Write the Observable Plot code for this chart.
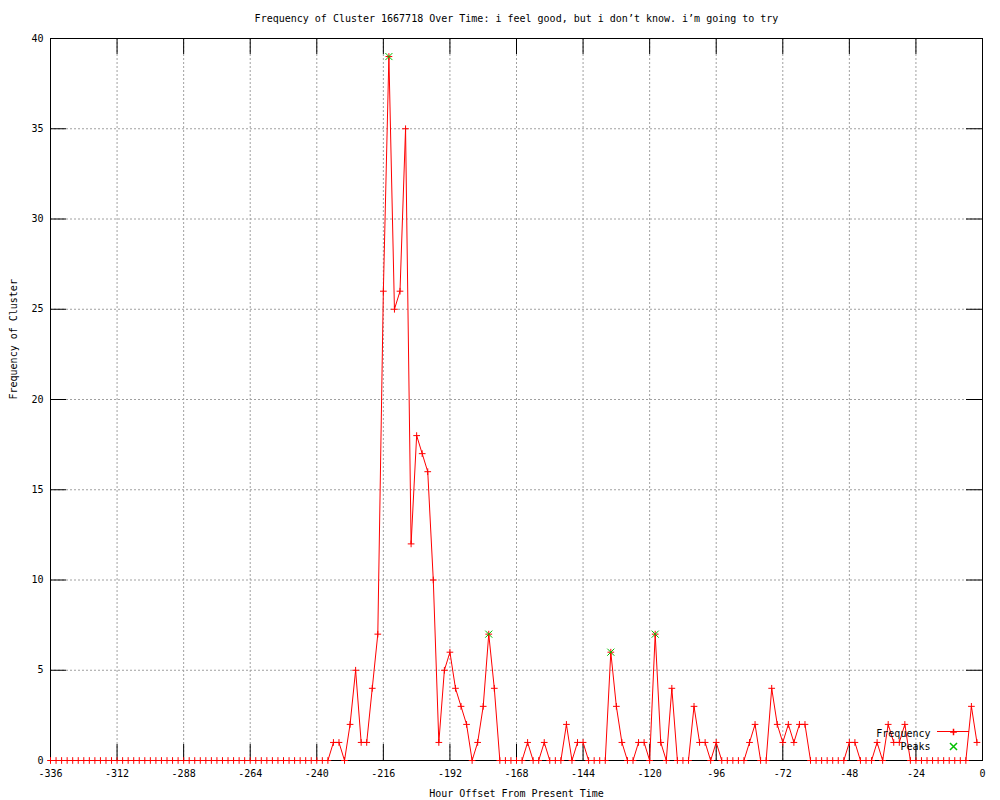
<!DOCTYPE html>
<html>
<head>
<meta charset="utf-8">
<script src="https://cdn.jsdelivr.net/npm/d3@7"></script>
<script src="https://cdn.jsdelivr.net/npm/@observablehq/plot@0.6"></script>
<style>
  body { margin: 0; background: #fff; }
  svg { display: block; }
</style>
</head>
<body>
<div id="chart"></div>
<script>
// ---- chart texts ----
const chartTitle = "Frequency of Cluster 1667718 Over Time: i feel good, but i don’t know. i’m going to try";
const xLabel = "Hour Offset From Present Time";
const yLabel = "Frequency of Cluster";
const seriesNames = ["Frequency", "Peaks"];

// ---- sampling grid (hour offsets) ----
const firstHour = -336;
const hourStep = 2;

// ---- series values (one per 2-hour step, from -336 to -2) ----
const frequency = [
  0,0,0,0,0,0,0,0,0,0,
  0,0,0,0,0,0,0,0,0,0,
  0,0,0,0,0,0,0,0,0,0,
  0,0,0,0,0,0,0,0,0,0,
  0,0,0,0,0,0,0,0,0,0,
  0,1,1,0,2,5,1,1,4,7,
  26,39,25,26,35,12,18,17,16,10,
  1,5,6,4,3,2,0,1,3,7,
  4,0,0,0,0,0,1,0,0,1,
  0,0,0,2,0,1,1,0,0,0,
  0,6,3,1,0,0,1,1,0,7,
  1,0,4,0,0,0,3,1,1,0,
  1,0,0,0,0,0,1,2,0,0,
  4,2,1,2,1,2,2,0,0,0,
  0,0,0,0,1,1,0,0,0,1,
  0,2,1,1,2,0,0,0,0,0,
  0,0,0,0,0,0,3,1
];

// ---- peaks (hour offsets) ----
const peakHours = [-214, -178, -134, -118];

// ---- tick values ----
const xTicks = [-336, -312, -288, -264, -240, -216, -192, -168, -144, -120, -96, -72, -48, -24, 0];
const yTicks = [0, 5, 10, 15, 20, 25, 30, 35, 40];

// ---- build table ----
const data = frequency.map((v, i) => ({hour: firstHour + i * hourStep, count: v}));
const peaks = data.filter(d => peakHours.includes(d.hour));

// ---- layout / style ----
const W = 1000, H = 800;
const mL = 50, mR = 18, mT = 38, mB = 40;
const innerW = W - mL - mR;
const innerH = H - mT - mB;
const tickLen = 16;
const font = "'DejaVu Sans Mono', 'Liberation Mono', monospace";
const red = "#ff0000";
const green = "#00c000";
const gridColor = "#a0a0a0";

// legend sample line (custom render mark)
const legendLine = (index, scales, values, dims) => {
  const g = d3.create("svg:g");
  const xr = dims.width - dims.marginRight;
  const yb = dims.height - dims.marginBottom;
  g.append("line")
    .attr("x1", xr - 45).attr("x2", xr - 13)
    .attr("y1", yb - 28.5).attr("y2", yb - 28.5)
    .attr("stroke", red).attr("stroke-width", 1);
  return g.node();
};

const chart = Plot.plot({
  width: W,
  height: H,
  marginLeft: mL,
  marginRight: mR,
  marginTop: mT,
  marginBottom: mB,
  style: {fontFamily: font, fontSize: "10px", background: "#fff", color: "#000"},
  x: {domain: [-336, 0], label: null},
  y: {domain: [0, 40], label: null},
  marks: [
    Plot.gridX(xTicks, {stroke: gridColor, strokeOpacity: 1, strokeDasharray: "2,2"}),
    Plot.gridY(yTicks, {stroke: gridColor, strokeOpacity: 1, strokeDasharray: "2,2"}),
    // inward tick marks on all four sides
    Plot.ruleX(xTicks, {stroke: "#000", insetTop: innerH - tickLen}),
    Plot.ruleX(xTicks, {stroke: "#000", insetBottom: innerH - tickLen}),
    Plot.ruleY(yTicks, {stroke: "#000", insetRight: innerW - tickLen}),
    Plot.ruleY(yTicks, {stroke: "#000", insetLeft: innerW - tickLen}),
    Plot.axisX(xTicks, {tickSize: 0, tickPadding: 9, tickFormat: d => String(d), label: null, fontSize: 10}),
    Plot.axisY(yTicks, {tickSize: 0, tickPadding: 7, tickFormat: d => String(d), label: null, fontSize: 10}),
    Plot.frame({stroke: "#000"}),
    // series
    Plot.line(data, {x: "hour", y: "count", stroke: red, strokeWidth: 1}),
    Plot.dot(data, {x: "hour", y: "count", symbol: "plus", r: 2.3, stroke: red, strokeWidth: 1}),
    Plot.dot(peaks, {x: "hour", y: "count", symbol: "times", r: 3.3, stroke: green, strokeWidth: 1}),
    // titles
    Plot.text([chartTitle], {text: d => d, frameAnchor: "top", lineAnchor: "middle", dy: -20, fontSize: 10}),
    Plot.text([xLabel], {text: d => d, frameAnchor: "bottom", lineAnchor: "middle", dy: 33, fontSize: 10}),
    Plot.text([yLabel], {text: d => d, frameAnchor: "left", lineAnchor: "middle", dx: -37, rotate: -90, fontSize: 10}),
    // legend
    Plot.text([seriesNames[0]], {text: d => d, frameAnchor: "bottom-right", lineAnchor: "middle", textAnchor: "end", dx: -52, dy: -27, fontSize: 10}),
    Plot.text([seriesNames[1]], {text: d => d, frameAnchor: "bottom-right", lineAnchor: "middle", textAnchor: "end", dx: -52, dy: -14, fontSize: 10}),
    legendLine,
    Plot.dot([seriesNames[0]], {frameAnchor: "bottom-right", dx: -29, dy: -28.5, symbol: "plus", r: 2.3, stroke: red}),
    Plot.dot([seriesNames[1]], {frameAnchor: "bottom-right", dx: -29, dy: -14, symbol: "times", r: 3.3, stroke: green})
  ]
});

document.getElementById("chart").appendChild(chart);
</script>
</body>
</html>
